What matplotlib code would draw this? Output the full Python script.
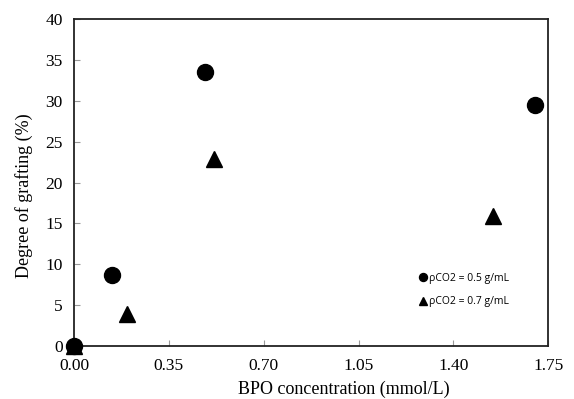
import matplotlib.pyplot as plt
import numpy as np

# Data
bpo_05 = [0.0, 0.14, 0.484, 1.70]
dg_05 = [0.0, 8.7, 33.5, 29.5]
bpo_07 = [0.0, 0.196, 0.517, 1.547]
dg_07 = [0.0, 3.85, 22.9, 15.9]
xticks = [0.00, 0.35, 0.70, 1.05, 1.40, 1.75]
yticks = [0, 5, 10, 15, 20, 25, 30, 35, 40]

plt.rcParams['font.family'] = ['Liberation Serif', 'DejaVu Serif']

fig = plt.figure(figsize=(5.74, 3.99), dpi=100)
ax = fig.add_axes([0.129, 0.133, 0.826, 0.819])

ax.plot(bpo_05, dg_05, 'o', color='black', markersize=11.5, clip_on=False, zorder=3,
        label='ρCO2 = 0.5 g/mL')
ax.plot(bpo_07, dg_07, '^', color='black', markersize=11.5, clip_on=False, zorder=3,
        label='ρCO2 = 0.7 g/mL')

ax.set_xlim(0, 1.75)
ax.set_ylim(0, 40)
ax.set_xticks(xticks)
ax.set_xticklabels([f'{v:.2f}' for v in xticks])
ax.set_yticks(yticks)
ax.tick_params(axis='x', direction='in', length=4, labelsize=12.5, pad=9, color='#999999')
ax.tick_params(axis='y', direction='in', length=4, labelsize=12.5, pad=8, color='#999999')
for s in ax.spines.values():
    s.set_linewidth(1.3)
    s.set_color('#222222')

ax.set_xlabel('BPO concentration (mmol/L)', fontsize=13)
ax.set_ylabel('Degree of grafting (%)', fontsize=13, labelpad=9)
ax.xaxis.set_label_coords(0.57, -0.105)
ax.yaxis.label.set_position((0, 0.46))

leg = ax.legend(loc='lower right', bbox_to_anchor=(0.937, 0.09), frameon=False,
                prop={'family': ['Open Sans', 'DejaVu Sans'], 'size': 7.5},
                markerscale=0.5, handletextpad=0.1, labelspacing=1.2, handlelength=1.0)

fig.savefig('out.png', dpi=100)
